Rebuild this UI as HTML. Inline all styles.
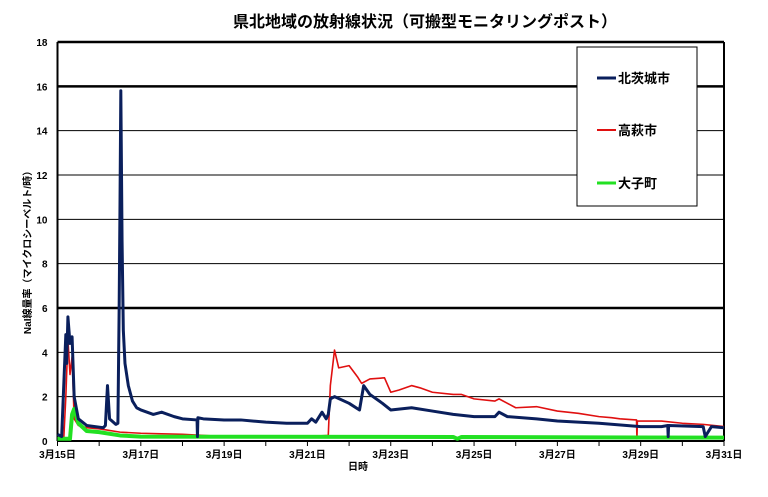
<!DOCTYPE html>
<html><head><meta charset="utf-8">
<style>
body{margin:0;background:#fff;}
svg text{font-family:"Liberation Sans","Noto Sans CJK JP",sans-serif;font-weight:bold;}
</style></head>
<body>
<svg id="chart" width="768" height="492" viewBox="0 0 768 492" xmlns="http://www.w3.org/2000/svg">
<text x="425" y="27" text-anchor="middle" font-size="16">県北地域の放射線状況（可搬型モニタリングポスト）</text>
<g id="grid"></g>
<g id="series"></g>
<text transform="translate(31,250) rotate(-90)" text-anchor="middle" font-size="10">NaI線量率（マイクロシーベルト/時）</text>
<text x="358" y="470" text-anchor="middle" font-size="10">日時</text>
<g>
<rect x="577" y="47" width="120" height="159" fill="#fff" stroke="#000" stroke-width="1"/>
<line x1="597" y1="78" x2="616" y2="78" stroke="#0a1f5c" stroke-width="3"/>
<text x="618" y="83" font-size="13">北茨城市</text>
<line x1="597" y1="130" x2="616" y2="130" stroke="#e01010" stroke-width="2"/>
<text x="618" y="135" font-size="13">高萩市</text>
<line x1="597" y1="183" x2="616" y2="183" stroke="#22e022" stroke-width="3"/>
<text x="618" y="188" font-size="13">大子町</text>
</g>
</svg>
<script>
const yTicks=[0,2,4,6,8,10,12,14,16,18];
const xLabels=["3月15日","3月17日","3月19日","3月21日","3月23日","3月25日","3月27日","3月29日","3月31日"];
const kitaT=[0,0.1,0.2,0.22,0.25,0.3,0.35,0.4,0.5,0.7,1.1,1.15,1.2,1.25,1.4,1.45,1.48,1.5,1.52,1.55,1.58,1.62,1.7,1.8,1.9,2.0,2.3,2.5,2.8,3.0,3.35,3.36,3.37,3.5,4.0,4.4,5.0,5.5,6.0,6.1,6.2,6.35,6.45,6.5,6.55,6.65,7.0,7.25,7.35,7.5,7.8,8.0,8.5,9.0,9.5,10.0,10.5,10.6,10.8,11.5,12.0,13.0,14.0,14.5,14.65,14.66,14.67,15.5,15.55,15.7,16.0];
const kitaV=[0.3,0.2,4.8,3.5,5.6,4.4,4.7,2.0,1.0,0.7,0.6,0.7,2.5,1.0,0.75,0.8,6,10.6,15.8,9,5,3.5,2.5,1.8,1.5,1.4,1.2,1.3,1.1,1.0,0.95,0.2,1.05,1.0,0.95,0.95,0.85,0.8,0.8,1.0,0.85,1.3,1.0,1.2,1.9,2.0,1.7,1.4,2.5,2.1,1.7,1.4,1.5,1.35,1.2,1.1,1.1,1.3,1.1,1.0,0.9,0.8,0.65,0.65,0.7,0.2,0.7,0.65,0.2,0.65,0.6];
const takaT=[0,0.15,0.2,0.25,0.3,0.35,0.4,0.5,0.7,1.0,1.5,2.0,3.0,4.0,5.0,6.0,6.5,6.55,6.65,6.75,7.0,7.2,7.3,7.5,7.85,8.0,8.2,8.5,8.7,9.0,9.5,9.7,10.0,10.5,10.6,10.8,11.0,11.5,12.0,12.5,13.0,13.3,13.5,13.9,13.91,13.92,14.5,15.0,15.5,16.0];
const takaV=[0.1,0.1,2.0,4.6,3.0,3.8,1.0,0.7,0.6,0.55,0.4,0.35,0.3,0.2,0.2,0.2,0.25,2.5,4.1,3.3,3.4,2.9,2.6,2.8,2.85,2.2,2.3,2.5,2.4,2.2,2.1,2.1,1.9,1.8,1.9,1.7,1.5,1.55,1.35,1.25,1.1,1.05,1.0,0.95,0.1,0.9,0.9,0.8,0.75,0.65];
const daigoT=[0,0.3,0.35,0.4,0.5,0.7,1.0,1.5,2.0,9.5,9.6,9.7,16.0];
const daigoV=[0.1,0.1,1.2,1.45,0.8,0.45,0.4,0.25,0.2,0.18,0.1,0.18,0.15];
const X0=57.5,X1=724,Y0=441,Y1=42,DAYS=16,YMAX=18;
const xs=t=>X0+(X1-X0)*t/DAYS, ys=v=>Y0-(Y0-Y1)*v/YMAX;
const NS="http://www.w3.org/2000/svg";
const grid=document.getElementById('grid'), ser=document.getElementById('series');
function mk(tag,attrs,parent){const e=document.createElementNS(NS,tag);for(const k in attrs)e.setAttribute(k,attrs[k]);parent.appendChild(e);return e;}
yTicks.forEach(v=>{
 const l=mk('line',{x1:X0,x2:X1,y1:ys(v),y2:ys(v),stroke:'#000','stroke-width':(v===6||v===16||v===18)?2.5:1},grid);
 
 
 const t=mk('text',{x:X0-10,y:ys(v)+4,'text-anchor':'end','font-size':10},grid);
 t.textContent=v;
 
 
});
mk('line',{x1:X0,x2:X0,y1:Y1,y2:Y0,stroke:'#000','stroke-width':2},grid);
mk('line',{x1:X1,x2:X1,y1:Y1,y2:Y0,stroke:'#000','stroke-width':2},grid);
mk('line',{x1:X0,x2:X1,y1:Y0,y2:Y0,stroke:'#000','stroke-width':2},grid);
for(let d=0;d<=DAYS;d++){mk('line',{x1:xs(d),x2:xs(d),y1:Y0,y2:Y0+5,stroke:'#000','stroke-width':1},grid);}
xLabels.forEach((s,i)=>{
 const t=mk('text',{x:xs(i*2),y:Y0+17,'text-anchor':'middle','font-size':10},grid);
 t.textContent=s;
 
 
});
function line(T,V,color,w,name){
 const p=mk('polyline',{points:T.map((t,i)=>xs(t)+','+ys(V[i])).join(' '),fill:'none',stroke:color,'stroke-width':w,'stroke-linejoin':'round'},ser);
 
 
}
line(takaT,takaV,'#e01010',1.6,'series-takahagi');
line(daigoT,daigoV,'#22e022',4,'series-daigo');
line(kitaT,kitaV,'#0a1f5c',3,'series-kitaibaraki');
</script>
</body></html>
